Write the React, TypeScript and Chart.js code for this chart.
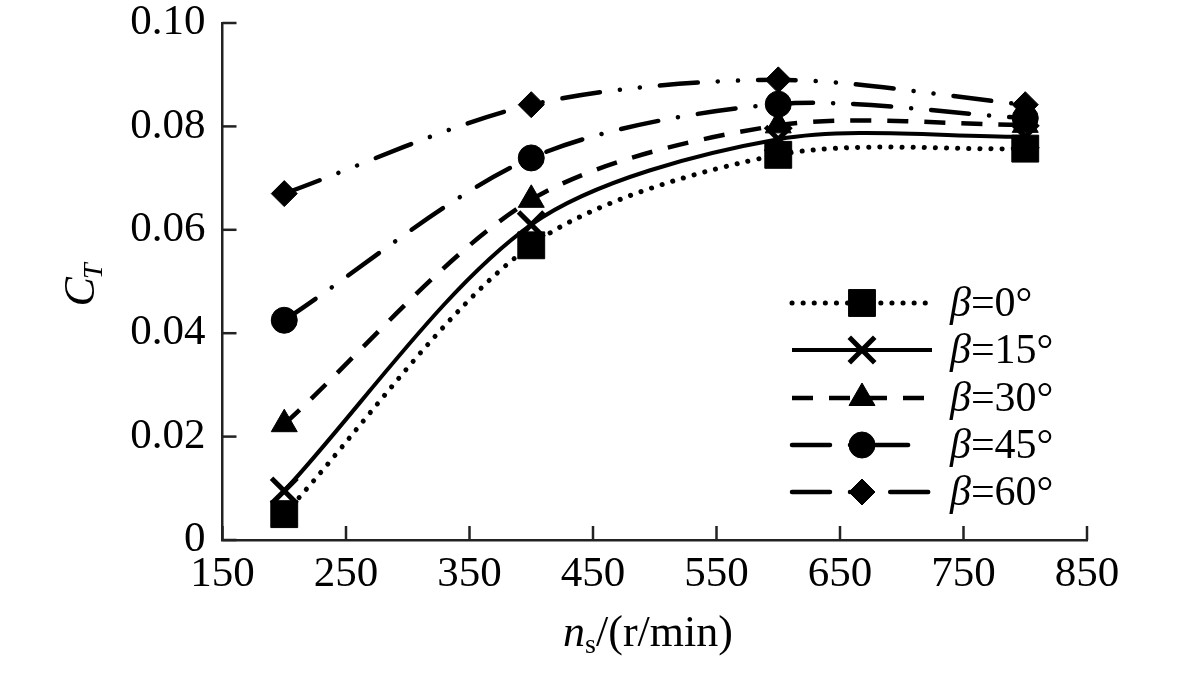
import { useEffect, useRef } from "react";
import { Chart, registerables, type Plugin } from "chart.js";
import { drawPoint } from "chart.js/helpers";

Chart.register(...registerables);

const speeds = [200, 400, 600, 800];
const beta0 = [0.005, 0.057, 0.0745, 0.0757];
const beta15 = [0.0095, 0.061, 0.0775, 0.078];
const beta30 = [0.0224, 0.0658, 0.0802, 0.0803];
const beta45 = [0.0425, 0.0739, 0.0843, 0.0816];
const beta60 = [0.067, 0.0842, 0.089, 0.0842];
const seriesLabels = ["=0°", "=15°", "=30°", "=45°", "=60°"];

const SERIF = '"Liberation Serif", "Times New Roman", serif';
const INK = "#000";
const AXIS = "#222";

type Style = {
  dash: number[];
  cap: CanvasLineCap;
  width: number;
  point: "rect" | "crossRot" | "triangle" | "circle" | "rectRot";
  radius: number;
  pointBorder: number;
  legendEnd: number;
};

const styles: Style[] = [
  { dash: [0.1, 11], cap: "round", width: 5, point: "rect", radius: 19, pointBorder: 1, legendEnd: 932 },
  { dash: [], cap: "butt", width: 4, point: "crossRot", radius: 18, pointBorder: 5, legendEnd: 932 },
  { dash: [21, 16], cap: "butt", width: 4.5, point: "triangle", radius: 15, pointBorder: 1, legendEnd: 932 },
  { dash: [38, 20, 0.1, 20], cap: "round", width: 4.5, point: "circle", radius: 13, pointBorder: 1, legendEnd: 914 },
  { dash: [38, 20, 0.1, 20, 0.1, 20], cap: "round", width: 4.5, point: "rectRot", radius: 13, pointBorder: 1, legendEnd: 932 },
];

const seriesValues = [beta0, beta15, beta30, beta45, beta60];

// inward tick marks, axis titles and the legend
const decorations: Plugin<"line"> = {
  id: "decorations",
  afterDraw(chart) {
    const { ctx, chartArea } = chart;
    const xs = chart.scales.x;
    const ys = chart.scales.y;
    ctx.save();
    ctx.strokeStyle = AXIS;
    ctx.lineWidth = 2.5;
    ctx.setLineDash([]);
    ys.ticks.forEach((t) => {
      const py = ys.getPixelForValue(t.value);
      ctx.beginPath();
      ctx.moveTo(chartArea.left, py);
      ctx.lineTo(chartArea.left + 14, py);
      ctx.stroke();
    });
    xs.ticks.forEach((t) => {
      const px = xs.getPixelForValue(t.value);
      ctx.beginPath();
      ctx.moveTo(px, chartArea.bottom);
      ctx.lineTo(px, chartArea.bottom - 14);
      ctx.stroke();
    });

    ctx.fillStyle = INK;
    ctx.textBaseline = "alphabetic";
    ctx.textAlign = "left";

    // x title: n_s/(r/min)
    ctx.font = `italic 44px ${SERIF}`;
    const wN = ctx.measureText("n").width;
    ctx.font = `28px ${SERIF}`;
    const wS = ctx.measureText("s").width;
    ctx.font = `44px ${SERIF}`;
    const wR = ctx.measureText("/(r/min)").width;
    let x0 = 648 - (wN + wS + wR) / 2;
    const base = 646;
    ctx.font = `italic 44px ${SERIF}`;
    ctx.fillText("n", x0, base);
    x0 += wN;
    ctx.font = `28px ${SERIF}`;
    ctx.fillText("s", x0, base + 7);
    x0 += wS;
    ctx.font = `44px ${SERIF}`;
    ctx.fillText("/(r/min)", x0, base);

    // y title: C_T
    ctx.save();
    ctx.translate(94, 284);
    ctx.rotate(-Math.PI / 2);
    ctx.font = `italic 44px ${SERIF}`;
    const wC = ctx.measureText("C").width;
    ctx.font = `italic 28px ${SERIF}`;
    const wT = ctx.measureText("T").width;
    const cx = -(wC + wT) / 2;
    ctx.font = `italic 44px ${SERIF}`;
    ctx.fillText("C", cx, 0);
    ctx.font = `italic 28px ${SERIF}`;
    ctx.fillText("T", cx + wC - 2, 8);
    ctx.restore();

    // legend
    const rows = [303, 350, 398, 445, 492];
    styles.forEach((s, i) => {
      const y = rows[i];
      ctx.save();
      ctx.strokeStyle = INK;
      ctx.lineWidth = s.width;
      ctx.lineCap = s.cap;
      ctx.setLineDash(s.dash);
      ctx.lineDashOffset = 0;
      ctx.beginPath();
      ctx.moveTo(792, y);
      ctx.lineTo(s.legendEnd, y);
      ctx.stroke();
      ctx.restore();
      ctx.save();
      ctx.fillStyle = INK;
      ctx.strokeStyle = INK;
      ctx.lineWidth = s.pointBorder;
      ctx.setLineDash([]);
      drawPoint(ctx, { pointStyle: s.point, radius: s.radius, rotation: 0, borderWidth: s.pointBorder }, 862, y);
      ctx.restore();
      ctx.font = `italic 42px ${SERIF}`;
      ctx.fillText("β", 950, y + 13);
      const wb = ctx.measureText("β").width;
      ctx.font = `42px ${SERIF}`;
      ctx.fillText(seriesLabels[i], 950 + wb, y + 13);
    });
    ctx.restore();
  },
};

export default function App() {
  const canvasRef = useRef<HTMLCanvasElement>(null);
  const chartRef = useRef<Chart | null>(null);

  useEffect(() => {
    if (!canvasRef.current) return;
    chartRef.current = new Chart(canvasRef.current, {
      type: "line",
      data: {
        datasets: seriesValues.map((vals, i) => {
          const s = styles[i];
          return {
            label: "β" + seriesLabels[i],
            data: speeds.map((x, j) => ({ x, y: vals[j] })),
            borderColor: INK,
            backgroundColor: INK,
            borderWidth: s.width,
            borderDash: s.dash,
            borderCapStyle: s.cap,
            tension: 0.3,
            pointStyle: s.point,
            pointRadius: s.radius,
            pointBorderWidth: s.pointBorder,
            pointBackgroundColor: INK,
            pointBorderColor: INK,
            clip: false as const,
          };
        }),
      },
      options: {
        animation: false,
        responsive: true,
        maintainAspectRatio: false,
        layout: { padding: { left: 0, top: 23, right: 94, bottom: 0 } },
        plugins: {
          legend: { display: false },
          tooltip: { enabled: false },
        },
        scales: {
          x: {
            type: "linear",
            min: 150,
            max: 850,
            afterFit: (scale) => {
              scale.height = 135;
              scale.paddingLeft = 0;
              scale.paddingRight = 0;
            },
            ticks: {
              stepSize: 100,
              color: INK,
              padding: 9,
              font: { family: SERIF, size: 43 },
              callback: (v) => String(v),
            },
            grid: { display: false, drawTicks: false },
            border: { display: true, color: AXIS, width: 2.5 },
          },
          y: {
            type: "linear",
            min: 0,
            max: 0.1,
            afterFit: (scale) => {
              scale.width = 222.5;
              scale.paddingTop = 0;
              scale.paddingBottom = 0;
            },
            ticks: {
              stepSize: 0.02,
              color: INK,
              padding: 17,
              font: { family: SERIF, size: 43 },
              callback: (v) => (Number(v) === 0 ? "0" : Number(v).toFixed(2)),
            },
            grid: { display: false, drawTicks: false },
            border: { display: true, color: AXIS, width: 2.5 },
          },
        },
      },
      plugins: [decorations],
    });
    return () => {
      chartRef.current?.destroy();
      chartRef.current = null;
    };
  }, []);

  return (
    <div
      style={{
        position: "fixed",
        left: 0,
        top: 0,
        width: 1181,
        height: 675,
        background: "#fff",
      }}
    >
      <canvas ref={canvasRef} />
    </div>
  );
}
